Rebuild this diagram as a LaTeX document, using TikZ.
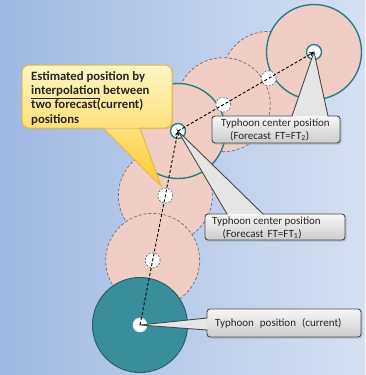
\documentclass[tikz,border=0pt]{standalone}
\usepackage{fontspec}
\setmainfont{Carlito}
\usetikzlibrary{calc,arrows.meta,shadows}
\definecolor{bgL}{HTML}{9FB8E3}
\definecolor{bgR}{HTML}{D6E0F2}
\definecolor{pinkf}{HTML}{F0CEC5}
\definecolor{tealb}{HTML}{2C7C82}
\definecolor{tealf}{HTML}{3A8E9C}
\definecolor{tealdk}{HTML}{2A5F68}
\definecolor{dashg}{HTML}{6E7C82}
\definecolor{calloutb}{HTML}{4A4A4A}
\definecolor{ylwT}{HTML}{FFF6C6}
\definecolor{ylwB}{HTML}{FFE07A}
\definecolor{ylwTip}{HTML}{FFCB3A}
\definecolor{ylwb}{HTML}{EDB930}
\definecolor{txt}{HTML}{262626}
\begin{document}
\begin{tikzpicture}[x=1pt,y=-1pt,
  bigfc/.style={circle, minimum size=95pt, inner sep=0pt, fill=pinkf, draw=tealb, line width=1.4pt},
  bigip/.style={circle, minimum size=94pt, inner sep=0pt, fill=pinkf, draw=dashg, line width=0.8pt, dash pattern=on 3pt off 2pt},
  smfc/.style={circle, minimum size=15pt, inner sep=0pt, fill=white, draw=tealb, line width=1.4pt},
  smip/.style={circle, minimum size=15pt, inner sep=0pt, fill=white, draw=dashg, line width=0.8pt, dash pattern=on 2pt off 1.5pt},
  track/.style={draw=black, line width=0.9pt, dash pattern=on 3pt off 2pt, -{Stealth[length=5pt,width=4.5pt]}},
  gshade/.style={top color=gray!6, bottom color=gray!40, rounded corners=3pt, drop shadow={shadow xshift=1.5pt, shadow yshift=-1.5pt, opacity=0.35}},
  wedgefill/.style={fill=gray!20},
  gline/.style={draw=calloutb, line width=0.9pt, rounded corners=3pt, line cap=round, line join=round},
  wline/.style={draw=calloutb, line width=0.9pt, line cap=round, line join=miter},
  gtext/.style={align=left, inner sep=0pt, text=txt, font=\fontsize{11}{12.5}\selectfont},
  ytext/.style={align=left, inner sep=0pt, text=txt, font=\bfseries\fontsize{12.7}{14.2}\selectfont},
]
\useasboundingbox (0,0) rectangle (365,375);
\shade[left color=bgL, right color=bgR] (0,0) rectangle (365,375);

\coordinate (pc) at (140,325);
\coordinate (p1) at (178,131);
\coordinate (p2) at (314,52);

% big circles
\node[bigip] (i4) at ($(p1)!2/3!(p2)$) {};
\node[bigfc] (f2) at (p2) {};
\node[bigip] (i3) at ($(p1)!1/3!(p2)$) {};
\node[bigip] (i2) at ($(pc)!2/3!(p1)$) {};
\node[bigip] (i1) at ($(pc)!1/3!(p1)$) {};
\node[circle, minimum size=95pt, inner sep=0pt, fill=tealf, draw=tealdk, line width=1pt] (c0) at (pc) {};
\node[bigfc] (f1) at (p1) {};

% small circles
\node[smip] (s4) at (i4) {};
\node[smip] (s3) at (i3) {};
\node[smip] (s2) at (i2) {};
\node[smip] (s1) at (i1) {};
\node[smfc] (sf2) at (f2) {};
\node[smfc] (sf1) at (f1) {};
\node[circle, minimum size=14pt, inner sep=0pt, fill=white, draw=white!85!tealf, line width=0.6pt] (sc) at (pc) {};

% callout FT2
\fill[wedgefill] (292,117) -- (f2.center) -- (328,117) -- cycle;
\shade[gshade] (212,116) rectangle (340,143);
\draw[gline] (328,116) -- (340,116) -- (340,143) -- (212,143) -- (212,116) -- (292,116);
\draw[wline] (292,116) -- (f2.center) -- (328,116);
\node[gtext, anchor=west] (t2) at (221,130) {Typhoon center position\\\hspace*{9pt}(Forecast\hspace{4pt}FT=FT\textsubscript{2})};

% callout FT1
\fill[wedgefill] (227,215) -- (f1.center) -- (263,215) -- cycle;
\shade[gshade] (205,214) rectangle (345,240);
\draw[gline] (263,214) -- (345,214) -- (345,240) -- (205,240) -- (205,214) -- (227,214);
\draw[wline] (227,214) -- (f1.center) -- (263,214);
\node[gtext, anchor=west] (t1) at (212,228) {Typhoon center position\\\hspace*{10.5pt}(Forecast\hspace{4pt}FT=FT\textsubscript{1})};

% callout current
\fill[wedgefill] (209,318) -- (c0.center) -- (209,330) -- cycle;
\shade[gshade] (207,309) rectangle (361,337);
\draw[gline] (207,330) -- (207,337) -- (361,337) -- (361,309) -- (207,309) -- (207,318);
\draw[wline] (207,318) -- (c0.center) -- (207,330);
\node[gtext, anchor=west] (t0) at (215,323) {Typhoon\hspace{6pt}position\hspace{6pt}(current)};

% yellow callout
\shade[top color=ylwB, bottom color=ylwTip] (103,127) -- (161,186) -- (140,127) -- cycle;
\shade[top color=ylwT, bottom color=ylwB, rounded corners=7pt, drop shadow={shadow xshift=1pt, shadow yshift=-1pt, opacity=0.25}] (22,65) rectangle (172,128);
\draw[draw=ylwb, line width=1pt, rounded corners=7pt, line cap=round] (140,128) -- (172,128) -- (172,65) -- (22,65) -- (22,128) -- (103,128);
\draw[draw=ylwb, line width=1pt, line cap=round] (103,128) -- (161,186) -- (140,128);
\node[ytext, anchor=west] (ty) at (31,98.3) {Estimated position by\\\underline{interpolation} between\\two forecast(current)\\positions};

% track
\draw[track] (c0.center) -- (f1.center);
\draw[track] (f1.center) -- (f2.center);
\end{tikzpicture}
\end{document}
